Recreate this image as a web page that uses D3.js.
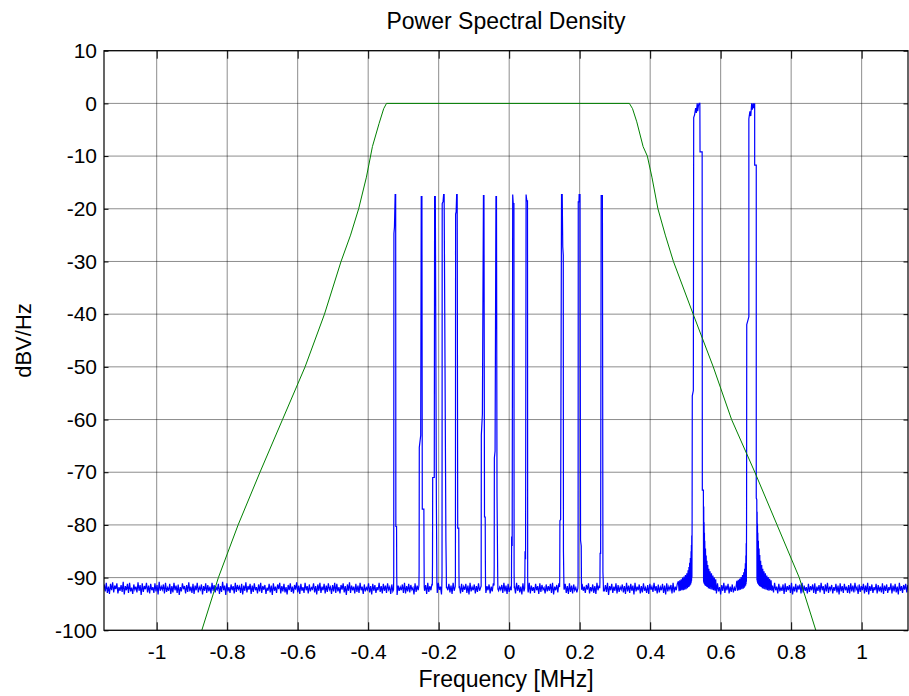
<!DOCTYPE html>
<html>
<head>
<meta charset="utf-8">
<script src="https://cdn.jsdelivr.net/npm/d3@7"></script>
<style>
body { margin: 0; background: #fff; }
text { font-family: "Liberation Sans", Arial, sans-serif; fill: #000; }
</style>
</head>
<body>
<div id="chart"></div>
<script>
const width = 909
const height = 696
const plot = { left: 104, right: 908, top: 50.7, bottom: 630.3 }

// axis ticks
const xTicks = [-1, -0.8, -0.6, -0.4, -0.2, 0, 0.2, 0.4, 0.6, 0.8, 1]
const xTickLabels = ["-1", "-0.8", "-0.6", "-0.4", "-0.2", "0", "0.2", "0.4", "0.6", "0.8", "1"]
const yTicks = [10, 0, -10, -20, -30, -40, -50, -60, -70, -80, -90, -100]
const yTickLabels = ["10", "0", "-10", "-20", "-30", "-40", "-50", "-60", "-70", "-80", "-90", "-100"]

// green: filter response [MHz, dB]
const filterResponse = [
    [-0.905, -106], [-0.872, -100], [-0.825, -90], [-0.769, -80], [-0.707, -70], [-0.643, -60],
    [-0.579, -50], [-0.524, -40], [-0.477, -30], [-0.450, -25], [-0.427, -20], [-0.405, -14],
    [-0.388, -8.2], [-0.369, -3.8], [-0.356, -1], [-0.348, 0], [0.341, 0], [0.350, -1],
    [0.362, -3.5], [0.380, -8.2], [0.392, -10], [0.405, -14], [0.422, -20], [0.443, -25],
    [0.466, -30], [0.522, -40], [0.579, -50], [0.631, -60], [0.697, -70], [0.760, -80],
    [0.823, -90], [0.870, -100], [0.900, -106]
]

// blue: noise floor, one value per bin starting at floorStart
const floorStart = -1.149
const floorStep = 0.003
const floorLevels = [
    -91.3,-92.6,-91.0,-92.9,-91.7,-93.1,-91.2,-92.4,-90.9,-92.8,-91.5,-92.2,-91.1,-93.0,-91.8,-92.5,-91.4,-92.7,-90.8,-93.2,
    -91.6,-92.4,-91.2,-92.9,-91.0,-92.6,-91.9,-93.1,-91.3,-92.3,-91.7,-92.8,-90.9,-92.5,-91.4,-93.3,-91.1,-92.7,-91.6,-92.2,
    -91.0,-92.8,-91.5,-93.0,-91.2,-92.4,-91.8,-92.9,-91.1,-92.6,-91.4,-93.2,-90.8,-92.5,-91.7,-92.3,-91.3,-93.0,-91.0,-92.7,
    -91.9,-92.5,-91.2,-93.1,-91.6,-92.8,-91.0,-92.4,-91.5,-92.9,-91.3,-93.3,-91.8,-92.6,-91.1,-92.2,-91.6,-93.0,-91.4,-92.7,
    -90.9,-92.6,-91.7,-92.9,-91.2,-93.1,-91.5,-92.4,-91.0,-92.8,-91.8,-92.3,-91.3,-93.2,-91.6,-92.5,-91.1,-92.9,-91.4,-92.6,
    -91.7,-93.0,-91.0,-92.5,-91.4,-92.8,-91.9,-92.3,-91.2,-93.1,-91.6,-92.7,-90.8,-92.4,-91.5,-93.3,-91.1,-92.6,-91.8,-92.9,
    -91.3,-92.4,-91.6,-93.0,-91.0,-92.7,-91.4,-92.2,-91.7,-92.9,-91.2,-93.2,-91.5,-92.5,-90.9,-92.8,-91.6,-92.3,-91.2,-93.1,
    -91.5,-92.7,-91.1,-92.4,-91.8,-93.0,-91.3,-92.6,-91.0,-92.9,-91.6,-92.3,-91.4,-93.1,-91.9,-92.5,-91.2,-92.8,-91.5,-93.3,
    -91.1,-92.5,-91.7,-92.9,-91.3,-92.2,-91.0,-93.0,-91.6,-92.6,-91.2,-92.8,-91.8,-93.2,-91.4,-92.4,-91.1,-92.7,-91.7,-93.0,
    -91.4,-92.3,-90.9,-92.8,-91.5,-93.1,-91.2,-92.5,-91.8,-92.9,-91.0,-92.4,-91.6,-93.0,-91.3,-92.6,-91.9,-92.2,-91.1,-92.8,
    -91.6,-93.2,-91.3,-92.5,-91.0,-92.9,-91.7,-92.4,-91.2,-93.0,-91.5,-92.7,-91.1,-92.3,-91.8,-93.1,-91.4,-92.6,-91.0,-92.9,
    -91.2,-92.6,-91.8,-93.0,-91.4,-92.3,-91.1,-92.8,-91.6,-93.3,-91.3,-92.5,-90.9,-92.9,-91.5,-92.4,-91.7,-93.0,-91.2,-92.7,
    -91.5,-92.9,-91.0,-92.4,-91.7,-93.1,-91.3,-92.6,-91.9,-92.3,-91.1,-92.8,-91.6,-93.2,-91.2,-92.5,-91.4,-92.9,-91.8,-92.4,
    -91.0,-92.7,-91.6,-93.0,-91.2,-92.5,-91.5,-92.9,-91.1,-92.3,-91.8,-93.1,-91.3,-92.6,-91.7,-92.8,-91.0,-93.3,-91.5,-92.5,
    -91.8,-92.4,-91.3,-92.9,-91.0,-93.0,-91.6,-92.6,-91.2,-92.8,-91.4,-92.3,-91.9,-93.2,-91.1,-92.7,-91.5,-92.4,-91.3,-93.0,
    -91.1,-92.8,-91.7,-92.5,-91.4,-93.1,-91.0,-92.7,-91.6,-92.4,-91.2,-93.0,-91.8,-92.6,-91.3,-92.9,-91.0,-92.3,-91.7,-93.2,
    -91.4,-92.6,-91.1,-93.0,-91.8,-92.4,-91.2,-92.8,-91.5,-93.1,-91.0,-92.5,-91.7,-92.9,-91.3,-92.3,-91.6,-93.0,-91.2,-92.7,
    -91.7,-92.3,-91.2,-92.9,-91.5,-93.2,-91.0,-92.6,-91.8,-92.4,-91.3,-93.0,-91.6,-92.7,-91.1,-92.5,-91.9,-93.1,-91.4,-92.8,
    -91.0,-92.9,-91.6,-92.4,-91.3,-93.0,-91.7,-92.6,-91.1,-92.8,-91.5,-93.3,-91.2,-92.5,-91.8,-92.3,-91.4,-92.9,-91.0,-92.6,
    -91.5,-93.1,-91.2,-92.7,-91.9,-92.4,-91.3,-92.9,-91.6,-93.0,-91.0,-92.5,-91.4,-92.8,-91.7,-93.2,-91.1,-92.6,-91.6,-92.3,
    -91.3,-92.8,-91.0,-93.0,-91.5,-92.5,-91.8,-92.9,-91.2,-92.4,-91.6,-93.1,-91.1,-92.7,-91.4,-92.3,-91.9,-93.0,-91.3,-92.6,
    -91.6,-92.5,-91.2,-92.9,-91.0,-93.2,-91.7,-92.4,-91.4,-92.8,-91.1,-93.0,-91.5,-92.6,-91.8,-92.3,-91.2,-92.9,-91.6,-93.1,
    -91.1,-92.7,-91.5,-93.0,-91.3,-92.4,-91.9,-92.8,-91.0,-92.6,-91.6,-93.2,-91.2,-92.5,-91.7,-92.9,-91.4,-92.3,-91.1,-93.0,
    -91.8,-92.6,-91.3,-92.9,-91.6,-93.1,-91.0,-92.4,-91.5,-92.8,-91.2,-93.0,-91.7,-92.5,-91.4,-92.7,-91.0,-93.3,-91.6,-92.4,
    -91.2,-92.9,-91.7,-92.5,-91.1,-93.0,-91.4,-92.7,-91.8,-92.3,-91.3,-92.8,-91.6,-93.1,-91.0,-92.6,-91.5,-92.9,-91.2,-92.5,
    -91.5,-93.2,-91.0,-92.6,-91.7,-92.4,-91.3,-93.0,-91.6,-92.8,-91.1,-92.5,-91.9,-92.9,-91.4,-93.1,-91.2,-92.3,-91.7,-92.7,
    -91.0,-92.5,-91.6,-93.0,-91.3,-92.8,-91.8,-92.4,-91.2,-92.9,-91.5,-93.2,-91.1,-92.6,-91.7,-92.3,-91.4,-93.0,-91.0,-92.8,
    -91.7,-92.4,-91.2,-92.9,-91.5,-93.1,-91.0,-92.6,-91.8,-92.5,-91.3,-93.0,-91.6,-92.7,-91.1,-92.4,-91.5,-92.9,-91.9,-93.2,
    -91.3,-92.7,-91.0,-92.4,-91.6,-93.0,-91.2,-92.8,-91.7,-92.5,-91.4,-93.1,-91.0,-92.6,-91.8,-92.9,-91.3,-92.3,-91.6,-93.0,
    -91.1,-92.6,-91.8,-93.2,-91.4,-92.5,-91.0,-92.9,-91.5,-92.4,-91.2,-93.0,-91.7,-92.7,-91.3,-92.8,-91.9,-92.5,-91.1,-93.1,
    -91.6,-92.9,-91.2,-92.4,-91.8,-93.0,-91.4,-92.6,-91.0,-92.8,-91.7,-93.3,-91.3,-92.5,-91.5,-92.9,-91.1,-92.4,-91.8,-92.7,
    -91.4,-93.0,-91.0,-92.6,-91.6,-92.3,-91.2,-92.9,-91.8,-93.1,-91.3,-92.5,-91.5,-92.8,-91.0,-92.4,-91.7,-93.0,-91.2,-92.6,
    -91.9,-92.5,-91.3,-93.1,-91.1,-92.7,-91.6,-92.4,-91.4,-92.9,-91.0,-93.2,-91.7,-92.6,-91.2,-92.8,-91.5,-92.3,-91.3,-93.0,
    -91.0,-92.8,-91.5,-92.5,-91.8,-93.0,-91.2,-92.7,-91.6,-92.4,-91.3,-92.9,-91.1,-93.1,-91.7,-92.5,-91.4,-92.8,-91.0,-92.4,
    -91.6,-93.1,-91.3,-92.6,-91.0,-92.9,-91.7,-92.3,-91.4,-93.0,-91.8,-92.5,-91.2,-92.8,-91.5,-93.2,-91.1,-92.6,-91.6,-92.9,
    -91.2,-92.4,-91.7,-92.9,-91.4,-93.0,-91.1,-92.6,-91.5,-92.8,-91.0,-92.3,-91.8,-93.1,-91.3,-92.7,-91.6,-92.4,-91.2,-93.0,
    -91.5,-92.7,-91.0,-93.2,-91.6,-92.5,-91.3,-92.9,-91.8,-92.4,-91.2,-93.0,-91.4,-92.6,-91.7,-92.8,-91.1,-93.1,-91.5,-92.5,
    -91.3,-92.9,-91.8,-92.4,-91.1,-93.0,-91.5,-92.6,-91.2,-92.8,-91.7,-93.2,-91.0,-92.5,-91.6,-92.9,-91.4,-92.3,-91.2,-92.8,
    -91.4
]

// blue: narrow tones [MHz, dB]
const narrowTones = [
    [[-0.328,-92.3],[-0.3275,-89.5],[-0.327,-24.7],[-0.3255,-23.5],[-0.3235,-17.3],[-0.322,-17.3],[-0.3215,-80.3],[-0.3195,-80.3],[-0.319,-89.2],[-0.3185,-92]],
    [[-0.256,-91.5],[-0.2555,-88.5],[-0.255,-65.3],[-0.251,-63],[-0.2495,-17.7],[-0.2475,-17.7],[-0.2465,-77],[-0.242,-77],[-0.2415,-86],[-0.241,-91.8]],
    [[-0.218,-91.5],[-0.2175,-87],[-0.217,-71],[-0.2125,-71],[-0.2115,-17.7],[-0.2095,-17.7],[-0.2065,-75.5],[-0.2055,-85.5],[-0.205,-91]],
    [[-0.191,-91.5],[-0.1905,-89.5],[-0.190,-19],[-0.1875,-18.6],[-0.186,-17.3],[-0.1845,-17.3],[-0.1795,-83],[-0.1785,-88],[-0.178,-92]],
    [[-0.153,-91.8],[-0.1525,-90],[-0.152,-21],[-0.1505,-20.6],[-0.149,-17.3],[-0.1475,-17.3],[-0.146,-80.6],[-0.143,-80.6],[-0.1425,-89],[-0.142,-92]],
    [[-0.0795,-91.6],[-0.079,-63],[-0.076,-59],[-0.073,-17.5],[-0.0715,-17.5],[-0.070,-78.5],[-0.068,-78.5],[-0.0675,-87],[-0.067,-91.8]],
    [[-0.043,-91.5],[-0.0425,-88],[-0.042,-67.3],[-0.040,-66],[-0.0375,-17.7],[-0.036,-17.7],[-0.0345,-74],[-0.033,-86],[-0.0325,-90],[-0.032,-92.2]],
    [[0.0065,-91],[0.007,-82.2],[0.0085,-84],[0.010,-17.3],[0.0115,-19],[0.0135,-19],[0.014,-89],[0.0145,-92]],
    [[0.044,-92],[0.0445,-90],[0.045,-85],[0.0465,-86.5],[0.048,-17.3],[0.050,-18.5],[0.052,-18.5],[0.0525,-90],[0.053,-92.3]],
    [[0.143,-91.8],[0.1435,-90],[0.144,-79.2],[0.146,-79],[0.1485,-17.3],[0.1505,-17.3],[0.152,-27.2],[0.1535,-28.8],[0.154,-85],[0.155,-90],[0.1555,-92]],
    [[0.195,-92],[0.1955,-91],[0.196,-18.7],[0.198,-18.7],[0.1985,-17.3],[0.201,-17.3],[0.2025,-82.9],[0.2045,-84],[0.205,-90],[0.2055,-92.3]],
    [[0.257,-92],[0.2575,-91],[0.258,-85.4],[0.2595,-85.4],[0.261,-17.5],[0.2645,-17.5],[0.266,-89],[0.267,-91],[0.2675,-92.5]]
]

// blue: the two wide carriers with their skirts [MHz, dB]
const wideCarriers = [
    [[0.480,-90.7],[0.482,-92.6],[0.484,-90.5],[0.486,-92.5],[0.488,-90.3],[0.490,-92.4],[0.492,-90.0],[0.494,-92.4],
     [0.496,-89.8],[0.498,-92.3],[0.500,-89.5],[0.502,-92.2],[0.504,-89.2],[0.506,-92.0],[0.5075,-88.6],[0.509,-91.8],
     [0.510,-88.0],[0.511,-91.7],[0.512,-87.2],[0.513,-91.5],[0.514,-86.3],[0.515,-91.3],[0.516,-85.0],[0.5165,-91.0],
     [0.517,-83.8],[0.5175,-90.6],[0.518,-82.0],[0.5185,-90.0],[0.519,-79.4],
     [0.5195,-55.5],[0.5225,-54.5],[0.5235,-2.7],[0.526,-2.2],[0.529,-0.9],[0.531,-1.8],[0.5335,0],[0.535,-1.5],
     [0.537,-0.4],[0.539,0],[0.541,0],[0.5415,-9.2],[0.5475,-9.2],[0.548,-73.4],[0.551,-73.4],
     [0.5515,-90.8],[0.552,-76.5],[0.5525,-91.0],[0.553,-79.5],[0.5535,-91.2],[0.554,-81.5],[0.5545,-91.3],[0.555,-83.0],
     [0.556,-91.5],[0.557,-84.5],[0.558,-91.6],[0.559,-85.8],[0.560,-91.7],[0.561,-86.8],[0.562,-91.8],[0.5635,-87.6],
     [0.565,-92.0],[0.5665,-88.3],[0.568,-92.1],[0.570,-88.8],[0.572,-92.2],[0.574,-89.2],[0.576,-92.3],[0.578,-89.6],
     [0.580,-92.4],[0.582,-90.0],[0.584,-92.5],[0.586,-90.3]],
    [[0.646,-90.6],[0.648,-92.5],[0.650,-90.4],[0.652,-92.4],[0.654,-90.2],[0.656,-92.3],[0.658,-89.9],[0.660,-92.2],
     [0.662,-89.5],[0.664,-92.1],[0.6655,-89.0],[0.667,-91.9],[0.668,-88.3],[0.669,-91.7],[0.670,-87.3],[0.671,-91.5],
     [0.6715,-85.8],[0.672,-91.2],[0.6725,-83.5],[0.673,-90.8],[0.6735,-78.1],
     [0.674,-42],[0.680,-40.5],[0.680,-2.9],[0.683,-1.5],[0.6855,-2.4],[0.688,0],[0.690,-1.2],[0.6925,0],[0.6945,-0.9],
     [0.6965,0],[0.6965,-11.7],[0.701,-11.7],[0.701,-74.9],[0.7025,-75.2],
     [0.703,-90.5],[0.7035,-77.5],[0.704,-90.8],[0.7045,-79.8],[0.705,-91.0],[0.7055,-81.5],[0.706,-91.2],[0.707,-83.0],
     [0.708,-91.4],[0.709,-84.5],[0.710,-91.6],[0.711,-85.7],[0.712,-91.7],[0.7135,-86.8],[0.715,-91.8],[0.7165,-87.6],
     [0.718,-92.0],[0.7195,-88.3],[0.721,-92.1],[0.723,-88.8],[0.725,-92.2],[0.727,-89.2],[0.729,-92.3],[0.731,-89.6],
     [0.733,-92.4],[0.735,-89.9],[0.737,-92.5],[0.739,-90.2],[0.741,-92.4],[0.743,-90.5],[0.745,-92.5]]
]

const svg = d3.select("div#chart").append("svg").attr("width", width).attr("height", height)

const x = d3.scaleLinear().domain([-1.1495, 1.1315]).range([plot.left, plot.right])
const y = d3.scaleLinear().domain([-100, 10]).range([plot.bottom, plot.top])

svg.append("defs").append("clipPath").attr("id", "clip")
    .append("rect")
    .attr("x", plot.left).attr("y", plot.top)
    .attr("width", plot.right - plot.left).attr("height", plot.bottom - plot.top)

// grid
const gridGroup = svg.append("g").attr("class", "gridGroup")
    .attr("stroke", "#000").attr("stroke-opacity", 0.45).attr("stroke-width", 1)
gridGroup.selectAll("line.vgrid").data(xTicks).join("line").attr("class", "vgrid")
    .attr("x1", d => x(d)).attr("x2", d => x(d))
    .attr("y1", plot.top).attr("y2", plot.bottom)
gridGroup.selectAll("line.hgrid").data(yTicks).join("line").attr("class", "hgrid")
    .attr("x1", plot.left).attr("x2", plot.right)
    .attr("y1", d => y(d)).attr("y2", d => y(d))

// blue trace: floor bins outside the bursts, plus the bursts themselves
const bursts = narrowTones.concat(wideCarriers)
const floorPts = floorLevels
    .map((v, i) => [floorStart + i * floorStep, v])
    .filter(([f]) => !bursts.some(b => f >= b[0][0] && f <= b[b.length - 1][0]))
const bluePts = floorPts.concat(...bursts).sort((a, b) => a[0] - b[0])

const line = d3.line().x(d => x(d[0])).y(d => y(d[1]))

const elementGroup = svg.append("g").attr("class", "elementGroup").attr("clip-path", "url(#clip)")

elementGroup.append("path").datum(bluePts)
    .attr("fill", "none").attr("stroke", "#0000ff").attr("stroke-width", 1.2)
    .attr("d", line)

elementGroup.append("path").datum(filterResponse)
    .attr("fill", "none").attr("stroke", "#008000").attr("stroke-width", 1)
    .attr("d", line)

// axes, ticks inward
const axisGroup = svg.append("g").attr("class", "axisGroup")

axisGroup.append("g").attr("transform", `translate(0, ${plot.bottom})`)
    .call(d3.axisBottom(x).tickValues(xTicks).tickSizeInner(-8).tickSizeOuter(0).tickPadding(14)
        .tickFormat((d, i) => xTickLabels[i]))
axisGroup.append("g").attr("transform", `translate(0, ${plot.top})`)
    .call(d3.axisTop(x).tickValues(xTicks).tickSizeInner(-8).tickSizeOuter(0).tickFormat(""))
axisGroup.append("g").attr("transform", `translate(${plot.left}, 0)`)
    .call(d3.axisLeft(y).tickValues(yTicks).tickSizeInner(-4.5).tickSizeOuter(0).tickPadding(7)
        .tickFormat((d, i) => yTickLabels[i]))
axisGroup.append("g").attr("transform", `translate(${plot.right}, 0)`)
    .call(d3.axisRight(y).tickValues(yTicks).tickSizeInner(-4.5).tickSizeOuter(0).tickFormat(""))

axisGroup.selectAll(".domain").remove()
axisGroup.selectAll(".tick line").attr("stroke", "#000")
axisGroup.selectAll(".tick text")
    .attr("font-family", "'Liberation Sans', Arial, sans-serif")
    .attr("font-size", 21).attr("fill", "#000")

axisGroup.append("rect")
    .attr("x", plot.left).attr("y", plot.top)
    .attr("width", plot.right - plot.left).attr("height", plot.bottom - plot.top)
    .attr("fill", "none").attr("stroke", "#000").attr("stroke-width", 1.2)

// labels
svg.append("text").attr("x", (plot.left + plot.right) / 2).attr("y", 29)
    .attr("text-anchor", "middle").attr("font-size", 23)
    .text("Power Spectral Density")

svg.append("text").attr("x", (plot.left + plot.right) / 2).attr("y", 687)
    .attr("text-anchor", "middle").attr("font-size", 23)
    .text("Frequency [MHz]")

svg.append("text")
    .attr("transform", `translate(31, ${(plot.top + plot.bottom) / 2}) rotate(-90)`)
    .attr("text-anchor", "middle").attr("font-size", 22)
    .text("dBV/Hz")
</script>
</body>
</html>
